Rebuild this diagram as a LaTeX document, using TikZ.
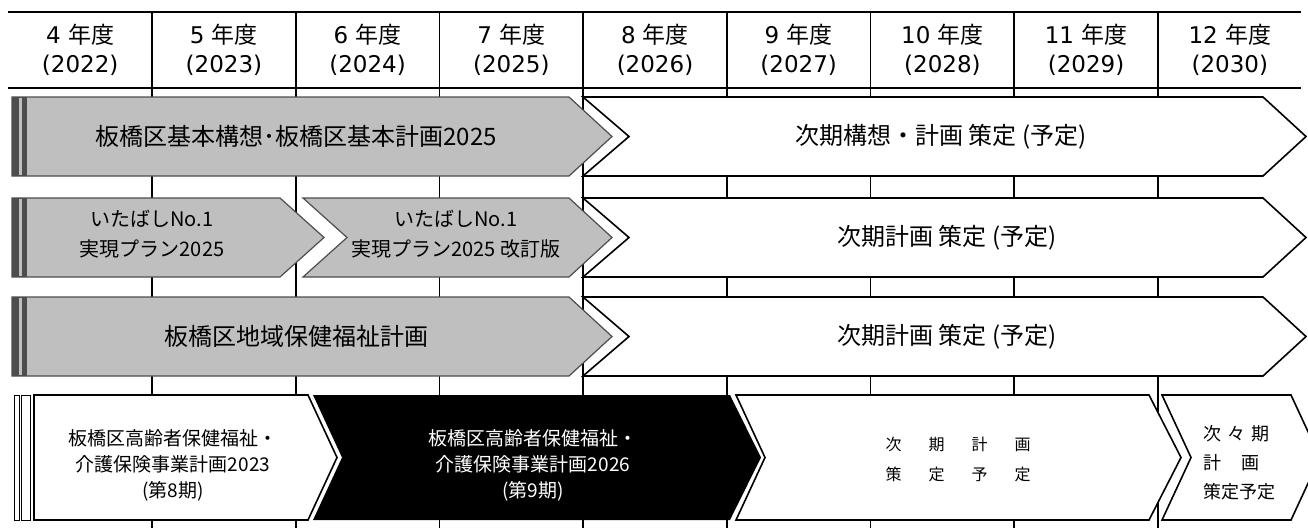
\documentclass[tikz,border=0pt]{standalone}
\usepackage{fontspec}
\setmainfont{Noto Sans CJK JP}
\newfontfamily\yearfont{DejaVu Sans}
\newfontfamily\jpfont{Noto Sans CJK JP}
\newcommand{\nendo}{{\jpfont 年度}}
\definecolor{planfill}{HTML}{BFBFBF}
\definecolor{planedge}{HTML}{4D4D4D}

\begin{document}
\begin{tikzpicture}[x=1pt,y=-1pt]
	\tikzstyle{every node}+=[inner sep=0pt, align=center]
	\tikzstyle{yearline}=[black, line width=1.6pt]
	\tikzstyle{planshape}=[fill=planfill, draw=planedge, line width=1.2pt, line join=miter]
	\tikzstyle{nextshape}=[fill=white, draw=black, line width=1.6pt, line join=miter]
	\tikzstyle{yeartext}=[font=\yearfont\fontsize{23}{29}\selectfont]
	\tikzstyle{bigtext}=[font=\fontsize{24}{30}\selectfont]
	\tikzstyle{midtext}=[font=\fontsize{20}{30}\selectfont]
	\tikzstyle{smalltext}=[font=\fontsize{19}{26}\selectfont]
	\useasboundingbox (0,0) rectangle (1308,528);
	\clip (0,0) rectangle (1308,528);
	% header
	\draw [yearline] (8,12) -- (1301,12);
	\draw [yearline] (8,88) -- (1301,88);
	\draw [yearline] (152,12) -- (152,528);
	\draw [yearline] (295.7,12) -- (295.7,528);
	\draw [yearline] (439.4,12) -- (439.4,528);
	\draw [yearline] (583.1,12) -- (583.1,528);
	\draw [yearline] (726.8,12) -- (726.8,528);
	\draw [yearline] (870.5,12) -- (870.5,528);
	\draw [yearline] (1014.2,12) -- (1014.2,528);
	\draw [yearline] (1157.9,12) -- (1157.9,528);
	\draw (80.2,49.5) node [yeartext] (h4) {4 \nendo\\(2022)};
	\draw (223.9,49.5) node [yeartext] (h5) {5 \nendo\\(2023)};
	\draw (367.6,49.5) node [yeartext] (h6) {6 \nendo\\(2024)};
	\draw (511.3,49.5) node [yeartext] (h7) {7 \nendo\\(2025)};
	\draw (655,49.5) node [yeartext] (h8) {8 \nendo\\(2026)};
	\draw (798.7,49.5) node [yeartext] (h9) {9 \nendo\\(2027)};
	\draw (942.4,49.5) node [yeartext] (h10) {10 \nendo\\(2028)};
	\draw (1086.1,49.5) node [yeartext] (h11) {11 \nendo\\(2029)};
	\draw (1229.8,49.5) node [yeartext] (h12) {12 \nendo\\(2030)};
	% row 1
	\draw [planshape] (12,97) -- (569,97) -- (612,136.5) -- (569,176) -- (12,176) -- cycle;
	\fill [planedge] (12,97) rectangle (27,176);
	\draw [planfill, line width=2.4pt] (20.5,98) -- (20.5,175);
	\draw [nextshape] (583,97) -- (1263,97) -- (1306,136.5) -- (1263,176) -- (583,176) -- (629,136.5) -- cycle;
	\draw (296,136.5) node [bigtext] (kihon) {板橋区基本構想･板橋区基本計画2025};
	\draw (941,136.5) node [bigtext] (kihonnext) {次期構想・計画 策定 (予定)};
	% row 2
	\draw [planshape] (12,198) -- (280,198) -- (324,237.5) -- (280,277) -- (12,277) -- cycle;
	\fill [planedge] (12,198) rectangle (27,277);
	\draw [planfill, line width=2.4pt] (20.5,199) -- (20.5,276);
	\draw [planshape] (303,198) -- (569,198) -- (612,237.5) -- (569,277) -- (303,277) -- (347,237.5) -- cycle;
	\draw [nextshape] (583,198) -- (1263,198) -- (1306,237.5) -- (1263,277) -- (583,277) -- (629,237.5) -- cycle;
	\draw (152,234) node [midtext] (jitsugen) {いたばしNo.1\\実現プラン2025};
	\draw (456,234) node [midtext] (kaitei) {いたばしNo.1\\実現プラン2025 改訂版};
	\draw (947,237.5) node [bigtext] (jitsugennext) {次期計画 策定 (予定)};
	% row 3
	\draw [planshape] (12,297) -- (569,297) -- (612,336.5) -- (569,376) -- (12,376) -- cycle;
	\fill [planedge] (12,297) rectangle (27,376);
	\draw [planfill, line width=2.4pt] (20.5,298) -- (20.5,375);
	\draw [nextshape] (583,297) -- (1263,297) -- (1306,336.5) -- (1263,376) -- (583,376) -- (629,336.5) -- cycle;
	\draw (296,336.5) node [bigtext] (chiiki) {板橋区地域保健福祉計画};
	\draw (947,336.5) node [bigtext] (chiikinext) {次期計画 策定 (予定)};
	% row 4
	\draw [black, line width=1pt] (14,395) rectangle (19,520);
	\draw [black, line width=1pt] (21.5,395) rectangle (30.5,520);
	\draw [nextshape] (34,395) -- (308,395) -- (337,457.5) -- (308,520) -- (34,520) -- cycle;
	\fill [black] (313,395) -- (730,395) -- (761,457.5) -- (730,520) -- (313,520) -- (342,457.5) -- cycle;
	\draw [nextshape] (736,395) -- (1149,395) -- (1181,457.5) -- (1149,520) -- (736,520) -- (765,457.5) -- cycle;
	\draw [nextshape] (1162,395) -- (1291,395) -- (1320,457.5) -- (1291,520) -- (1162,520) -- (1191,457.5) -- cycle;
	\draw (173,465) node [smalltext] (kourei8) {板橋区高齢者保健福祉・\\介護保険事業計画2023\\(第8期)};
	\draw (533,465) node [smalltext, white] (kourei9) {板橋区高齢者保健福祉・\\介護保険事業計画2026\\(第9期)};
	\draw (958,459) node [font=\fontsize{16}{30}\selectfont] (koureinext) {次\hspace{27pt}期\hspace{27pt}計\hspace{27pt}画\\策\hspace{27pt}定\hspace{27pt}予\hspace{27pt}定};
	\draw (1203,463) node [anchor=west, align=left, font=\fontsize{18}{29}\selectfont] (koureinnext) {次\hspace{6pt}々\hspace{6pt}期\\計\hspace{20pt}画\\策定予定};
\end{tikzpicture}
\end{document}
